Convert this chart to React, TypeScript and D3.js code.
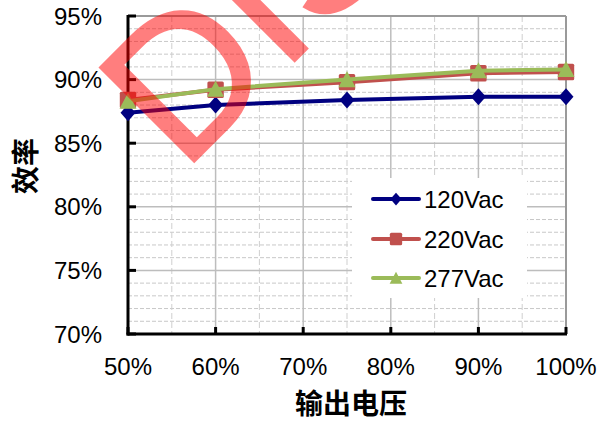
import React from "react";
import * as d3 from "d3";

const xValues = [50, 60, 75, 90, 100];
const seriesNames = ["120Vac", "220Vac", "277Vac"];
const s120 = [87.4, 88.0, 88.4, 88.65, 88.65];
const s220 = [88.4, 89.2, 89.8, 90.5, 90.6];
const s277 = [88.3, 89.25, 90.0, 90.7, 90.8];
const yTicks = [70, 75, 80, 85, 90, 95];
const xTicks = [50, 60, 70, 80, 90, 100];
const yMinor = d3.range(70, 96, 1).filter((v) => v % 5 !== 0);
const xMinor = [55, 65, 75, 85, 95];
const yTitle = "效率";
const xTitle = "输出电压";
const watermark = "DISCONTINUED";

const W = 601, H = 421;
const L = 128, R = 566, T = 16, B = 334;

const x = d3.scaleLinear().domain([50, 100]).range([L, R]);
const y = d3.scaleLinear().domain([70, 95]).range([B, T]);

const colors = ["#000080", "#C0504D", "#9BBB59"];
const seriesData = [s120, s220, s277];

function marker(kind: number, cx: number, cy: number, scale: number, color: string) {
  if (kind === 0) {
    const w = 7.5 * scale, h = 8.5 * scale;
    return <path d={`M${cx},${cy - h}L${cx + w},${cy}L${cx},${cy + h}L${cx - w},${cy}Z`} fill={color} />;
  }
  if (kind === 1) {
    const s = 8.2 * scale;
    return <rect x={cx - s} y={cy - s} width={2 * s} height={2 * s} rx={1.5} fill={color} />;
  }
  const w = 8.5 * scale, h = 8.5 * scale;
  return <path d={`M${cx},${cy - h}L${cx + w},${cy + h * 0.9}L${cx - w},${cy + h * 0.9}Z`} fill={color} />;
}

export default function App() {
  const line = d3
    .line<number>()
    .x((_, i) => x(xValues[i]))
    .y((d) => y(d));
  const font = "'Liberation Sans', Arial, sans-serif";
  const cjk = "'Noto Sans CJK SC', sans-serif";
  const legendRows = [199, 239, 278];
  return (
    <svg width={W} height={H} style={{ position: "absolute", left: 0, top: 0, background: "#fff" }}>
      <rect x={0} y={0} width={W} height={H} fill="#fff" />
      {/* minor grid */}
      {yMinor.map((v) => (
        <line key={"ym" + v} x1={L} x2={R} y1={y(v)} y2={y(v)} stroke="#c8c8c8" strokeWidth={1} strokeDasharray="4,2" />
      ))}
      {xMinor.map((v) => (
        <line key={"xm" + v} x1={x(v)} x2={x(v)} y1={T} y2={B} stroke="#cfcfcf" strokeWidth={1} strokeDasharray="6,3" />
      ))}
      {/* major grid */}
      {yTicks.slice(1, -1).map((v) => (
        <line key={"yM" + v} x1={L} x2={R} y1={y(v)} y2={y(v)} stroke="#bdbdbd" strokeWidth={1.5} />
      ))}
      {xTicks.slice(1, -1).map((v) => (
        <line key={"xM" + v} x1={x(v)} x2={x(v)} y1={T} y2={B} stroke="#bdbdbd" strokeWidth={1.5} />
      ))}
      {/* frame */}
      <line x1={L} x2={R} y1={T} y2={T} stroke="#9a9a9a" strokeWidth={2} />
      <line x1={R} x2={R} y1={T} y2={B} stroke="#9a9a9a" strokeWidth={2} />
      {/* legend box */}
      <rect x={352} y={178} width={175} height={120} fill="#fff" />
      {/* axes */}
      <line x1={L} x2={L} y1={T - 1} y2={B + 1.5} stroke="#000" strokeWidth={3} />
      <line x1={L - 1.5} x2={R + 1} y1={B} y2={B} stroke="#000" strokeWidth={3} />
      {yTicks.map((v) => (
        <line key={"yt" + v} x1={L} x2={L + 8} y1={y(v)} y2={y(v)} stroke="#000" strokeWidth={3} />
      ))}
      {xTicks.map((v) => (
        <line key={"xt" + v} x1={x(v)} x2={x(v)} y1={B} y2={B - 7} stroke="#000" strokeWidth={3} />
      ))}
      {yTicks.map((v) => (
        <text key={"yl" + v} x={102} y={y(v) + 8.5} textAnchor="end" fontFamily={font} fontSize={24} fill="#000">
          {v}%
        </text>
      ))}
      {xTicks.map((v) => (
        <text key={"xl" + v} x={x(v)} y={375} textAnchor="middle" fontFamily={font} fontSize={24} fill="#000">
          {v}%
        </text>
      ))}
      {/* series */}
      {seriesData.map((d, si) => (
        <g key={"s" + si}>
          <path d={line(d) || ""} fill="none" stroke={colors[si]} strokeWidth={4} strokeLinejoin="round" />
          {d.map((v, i) => (
            <g key={i}>{marker(si, x(xValues[i]), y(v), 1, colors[si])}</g>
          ))}
        </g>
      ))}
      {/* legend */}
      {seriesNames.map((n, i) => (
        <g key={"lg" + n}>
          <line x1={373} x2={419} y1={legendRows[i]} y2={legendRows[i]} stroke={colors[i]} strokeWidth={4} strokeLinecap="round" />
          {marker(i, 396, legendRows[i], 0.75, colors[i])}
          <text x={424} y={legendRows[i] + 9} fontFamily={font} fontSize={24} fill="#000">
            {n}
          </text>
        </g>
      ))}
      {/* titles */}
      <text x={351} y={414} textAnchor="middle" fontFamily={cjk} fontWeight="bold" fontSize={28} fill="#000">
        {xTitle}
      </text>
      <text
        transform="translate(36,166) rotate(-90)"
        textAnchor="middle"
        fontFamily={cjk}
        fontWeight="bold"
        fontSize={28}
        fill="#000"
      >
        {yTitle}
      </text>
      {/* watermark */}
      <g opacity={0.5}>
        <text
          transform="translate(183,173) rotate(-45)"
          fontFamily={font}
          fontSize={194}
          fill="rgb(255,0,0)"
          stroke="rgb(255,0,0)"
          strokeWidth={2}
        >
          {watermark}
        </text>
      </g>
    </svg>
  );
}
